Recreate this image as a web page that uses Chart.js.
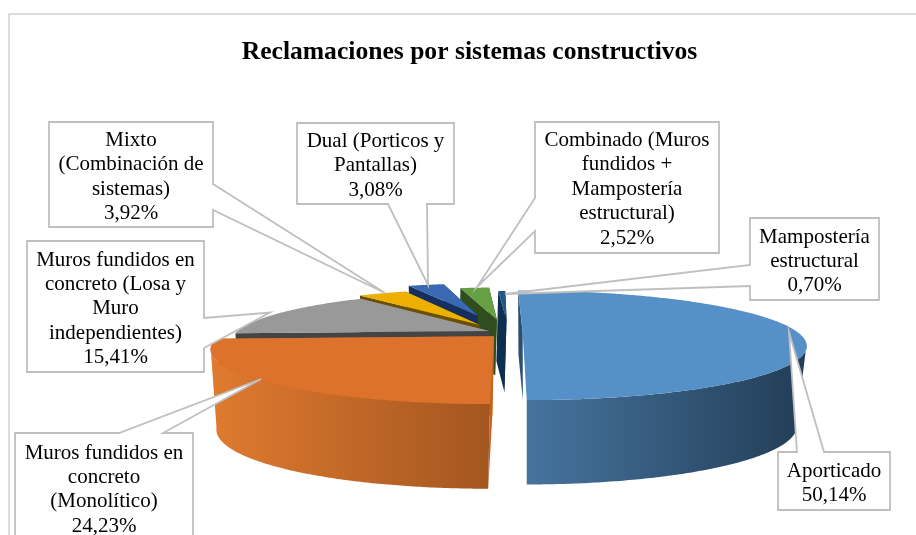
<!DOCTYPE html>
<html>
<head>
<meta charset="utf-8">
<title>Reclamaciones por sistemas constructivos</title>
<script src="https://cdn.jsdelivr.net/npm/chart.js@4"></script>
<style>
  html, body { margin: 0; padding: 0; background: #ffffff; overflow: hidden; }
  canvas { display: block; }
</style>
</head>
<body>
<canvas id="reclamacionesChart" width="916" height="535"></canvas>
<script>
// ## DATA ##
const categories = [
  "Aporticado",
  "Muros fundidos en concreto (Monolítico)",
  "Muros fundidos en concreto (Losa y Muro independientes)",
  "Mixto (Combinación de sistemas)",
  "Dual (Porticos y Pantallas)",
  "Combinado (Muros fundidos + Mampostería estructural)",
  "Mampostería estructural",
];
const percentages = [50.14, 24.23, 15.41, 3.92, 3.08, 2.52, 0.7];
const categoryLines = [
  ["Aporticado"],
  ["Muros fundidos en", "concreto", "(Monolítico)"],
  ["Muros fundidos en", "concreto (Losa y", "Muro", "independientes)"],
  ["Mixto", "(Combinación de", "sistemas)"],
  ["Dual (Porticos y", "Pantallas)"],
  ["Combinado (Muros", "fundidos +", "Mampostería", "estructural)"],
  ["Mampostería", "estructural"],
];

// ## STYLE ##
const topColors = ["#5590c8", "#dc722c", "#999999", "#edb000", "#3b68b2", "#66a043", "#21588c"];
const cutColors = ["#2b4f72", "#c4651f", "#444444", "#6b5000", "#15305e", "#2f4d1f", "#0f2f50"];
const wallLeft = ["#46749e", "#e07a30", "#777777", "#8a6a00", "#24457f", "#3f6b2b", "#123a60"];
const wallRight = ["#223d56", "#a35620", "#555555", "#6b5000", "#15305e", "#2f4d1f", "#0f2f50"];
// back slices first so the front ones paint over them
const drawOrder = [6, 5, 4, 3, 2, 0, 1];

// projection of the pie disc
const pie = {
  cx: 508.6,
  cy: 333,
  radius: 276,
  tilt: 52,
  perspective: 0.225,
  depth: 79,
  bottomCx: 430,
  bottomScaleX: 0.973,
  bottomScaleY: 1.08,
  wallFrom: 0.2,
};

// how each slice sits in the disc: shift, own radius scale, own depth scale
const sliceLayout = [
  { du: 0.051, dv: 0, scale: 1, depth: 1, cutDepth: 0.85, bottomCx: 527, bottomScaleX: 0.965 },
  { du: -0.052, dv: 0.06, scale: 0.985, depth: 1 },
  { du: -0.07, dv: -0.04, scale: 0.92, depth: 1 },
  { du: -0.11, dv: -0.162, scale: 0.88, depth: 1 },
  { du: -0.12, dv: -0.359, scale: 0.85, depth: 1 },
  { du: -0.045, dv: -0.27, scale: 0.82, depth: 0.72 },
  { du: -0.008, dv: -0.27, scale: 0.72, depth: 0.93 },
];

// callouts: box, wedge base on one side, tip
const callouts = [
  { box: [778, 452, 890, 510], side: "top", base: [797, 824], tip: [789, 332], first: 477 },
  { box: [15, 433, 193, 545], side: "top", base: [119, 163], tip: [261, 379], first: 458.5 },
  { box: [27, 241, 204, 372], side: "right", base: [318, 348], tip: [270, 312.5], first: 265.5 },
  { box: [49, 122, 213, 227], side: "right", base: [184, 210], tip: [385, 293], first: 146 },
  { box: [297, 123, 454, 204], side: "bottom", base: [388, 427], tip: [428, 285], first: 147 },
  { box: [535, 122, 719, 253], side: "left", base: [198, 231], tip: [477, 287], first: 146 },
  { box: [750, 218, 879, 300], side: "left", base: [265, 286], tip: [505, 294], first: 242.5 },
];

function projectDisc(u, v, bottom, depthScale, s) {
  const w = 1 - pie.perspective * v;
  const x = pie.cx + (pie.radius * u) / w;
  const y = (pie.tilt * v) / w;
  if (!bottom) return [x, pie.cy + y];
  const bottomCx = s.bottomCx || pie.bottomCx;
  const scaleX = s.bottomScaleX || pie.bottomScaleX;
  return [
    bottomCx + (x - bottomCx) * scaleX,
    pie.cy + y * pie.bottomScaleY + pie.depth * depthScale,
  ];
}

function fillPolygon(ctx, points, fill) {
  ctx.beginPath();
  points.forEach((p, i) => (i ? ctx.lineTo(p[0], p[1]) : ctx.moveTo(p[0], p[1])));
  ctx.closePath();
  ctx.fillStyle = fill;
  ctx.fill();
}

// one slice from the angles chart.js worked out for its arc element
function drawSlice(ctx, arc, i) {
  const start = arc.startAngle;
  const end = arc.endAngle;
  const s = sliceLayout[i];
  const at = (a, r, bottom, depthScale = s.depth) =>
    projectDisc(
      s.du + r * s.scale * Math.cos(a),
      s.dv + r * s.scale * Math.sin(a),
      bottom,
      depthScale,
      s
    );

  const angles = [];
  const steps = Math.max(2, Math.ceil((end - start) / 0.01));
  for (let n = 0; n <= steps; n++) angles.push(start + ((end - start) * n) / steps);

  // cut faces, the big slice only shows its back one
  const cutDepth = s.cutDepth || s.depth;
  (i === 0 ? [start] : [start, end]).forEach((a) => {
    fillPolygon(
      ctx,
      [at(a, 0, false), at(a, 1, false), at(a, 1, true, cutDepth), at(a, 0, true, cutDepth)],
      cutColors[i]
    );
  });

  // outer wall, only the part turned to the viewer
  const visible = angles.filter((a) => Math.sin(a) > pie.wallFrom);
  if (visible.length > 1) {
    const upper = visible.map((a) => at(a, 1, false));
    const lower = visible.map((a) => at(a, 1, true)).reverse();
    const xs = upper.concat(lower).map((p) => p[0]);
    const gradient = ctx.createLinearGradient(Math.min(...xs), 0, Math.max(...xs), 0);
    gradient.addColorStop(0, wallLeft[i]);
    gradient.addColorStop(1, wallRight[i]);
    fillPolygon(ctx, upper.concat(lower), gradient);
  }

  // top face
  fillPolygon(ctx, [at(0, 0, false)].concat(angles.map((a) => at(a, 1, false))), topColors[i]);
}

function calloutPoints(c) {
  const [x0, y0, x1, y1] = c.box;
  const [b0, b1] = c.base;
  if (c.side === "top") return [[x0, y0], [b0, y0], c.tip, [b1, y0], [x1, y0], [x1, y1], [x0, y1]];
  if (c.side === "bottom") return [[x0, y0], [x1, y0], [x1, y1], [b1, y1], c.tip, [b0, y1], [x0, y1]];
  if (c.side === "left") return [[x0, y0], [x1, y0], [x1, y1], [x0, y1], [x0, b1], c.tip, [x0, b0]];
  return [[x0, y0], [x1, y0], [x1, b0], c.tip, [x1, b1], [x1, y1], [x0, y1]];
}

function drawCallout(ctx, c, i) {
  const points = calloutPoints(c);
  fillPolygon(ctx, points, "#ffffff");
  ctx.strokeStyle = "#bfbfbf";
  ctx.lineWidth = 1.8;
  ctx.lineJoin = "miter";
  ctx.stroke();

  const lines = categoryLines[i].concat(percentages[i].toFixed(2).replace(".", ",") + "%");
  const middle = (c.box[0] + c.box[2]) / 2;
  ctx.fillStyle = "#000000";
  ctx.font = '21px "Liberation Serif"';
  ctx.textAlign = "center";
  ctx.textBaseline = "alphabetic";
  lines.forEach((line, n) => ctx.fillText(line, middle, c.first + n * 24.4));
}

const pie3dPlugin = {
  id: "pie3d",
  beforeDraw(chart) {
    const ctx = chart.ctx;
    ctx.save();
    ctx.fillStyle = "#ffffff";
    ctx.fillRect(0, 0, chart.width, chart.height);
    ctx.strokeStyle = "#d9d9d9";
    ctx.lineWidth = 1.8;
    ctx.strokeRect(9, 14, 1000, 1000);
    ctx.restore();
  },
  beforeDatasetsDraw(chart) {
    const ctx = chart.ctx;
    const arcs = chart.getDatasetMeta(0).data;
    ctx.save();
    drawOrder.forEach((i) => drawSlice(ctx, arcs[i], i));
    callouts.forEach((c, i) => drawCallout(ctx, c, i));
    ctx.restore();
    return false;
  },
};

const ctx = document.getElementById("reclamacionesChart").getContext("2d");

window.reclamacionesChart = new Chart(ctx, {
  type: "pie",
  data: {
    labels: categories,
    datasets: [
      {
        label: "Reclamaciones",
        data: percentages,
        backgroundColor: topColors,
      },
    ],
  },
  options: {
    responsive: false,
    animation: false,
    rotation: -0.5,
    layout: { padding: { left: 23 } },
    plugins: {
      legend: { display: false },
      tooltip: { enabled: false },
      title: {
        display: true,
        text: "Reclamaciones por sistemas constructivos",
        color: "#000000",
        font: { family: '"Liberation Serif"', size: 25.6, weight: "bold" },
        padding: { top: 37, bottom: 10 },
      },
    },
  },
  plugins: [pie3dPlugin],
});
</script>
</body>
</html>
